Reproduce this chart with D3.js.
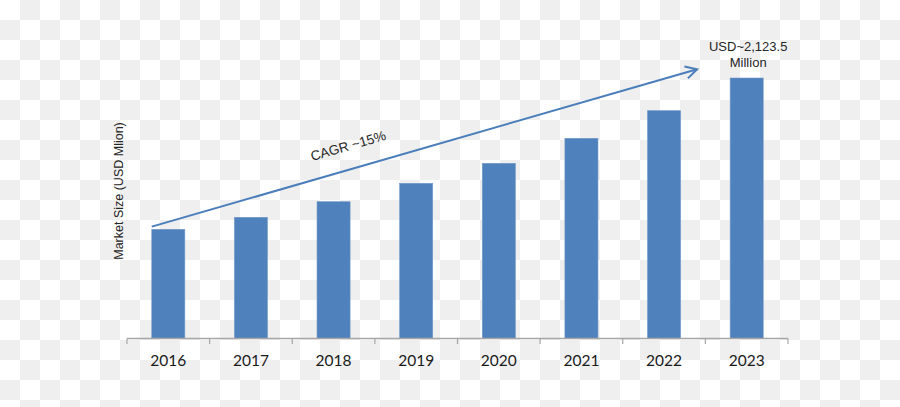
<!DOCTYPE html>
<html>
<head>
<meta charset="utf-8">
<script src="https://cdn.jsdelivr.net/npm/d3@7/dist/d3.min.js"></script>
<style>
  html, body { margin: 0; padding: 0; background: #ffffff; }
  svg { display: block; }
</style>
</head>
<body>
<svg id="chart" width="900" height="407"></svg>
<script>
// ---- data ----
const years = ["2016", "2017", "2018", "2019", "2020", "2021", "2022", "2023"];
const marketSize = [890, 988, 1115, 1265, 1428, 1632, 1857, 2123.5];
const yTitle = "Market Size (USD Mlion)";
const cagrLabel = "CAGR ~15%";
const endLabel = ["USD~2,123.5", "Million"];
const arrowStartValue = 912;
const arrowEndValue = 2195;
const yMax = 2500;

// ---- layout ----
const W = 900, H = 407;
const svg = d3.select("#chart");

// checkerboard backdrop (as in reference image)
const defs = svg.append("defs");
const pat = defs.append("pattern")
  .attr("id", "checker").attr("width", 40).attr("height", 40)
  .attr("patternUnits", "userSpaceOnUse");
pat.append("rect").attr("width", 40).attr("height", 40).attr("fill", "#ffffff");
pat.append("rect").attr("x", 20).attr("y", 0).attr("width", 20).attr("height", 20).attr("fill", "#efefef");
pat.append("rect").attr("x", 0).attr("y", 20).attr("width", 20).attr("height", 20).attr("fill", "#efefef");
svg.append("rect").attr("width", W).attr("height", H).attr("fill", "url(#checker)");

const x = d3.scaleBand().domain(years).range([127, 788])
  .paddingInner(0.6).paddingOuter(0.3);
const y = d3.scaleLinear().domain([0, yMax]).range([338.5, 338.5 - yMax / 8.152]);

// bars
svg.append("g").selectAll("rect").data(years).join("rect")
  .attr("x", d => x(d))
  .attr("y", (d, i) => y(marketSize[i]))
  .attr("width", x.bandwidth())
  .attr("height", (d, i) => y(0) - y(marketSize[i]))
  .attr("fill", "#4f81bd")
  .attr("stroke", "#6f97c8")
  .attr("stroke-width", 0.6);

// x axis: line + ticks at band boundaries
const axisG = svg.append("g");
const x0 = x.range()[0], x1 = x.range()[1];
axisG.append("line")
  .attr("x1", x0).attr("x2", x1).attr("y1", y(0)).attr("y2", y(0))
  .attr("stroke", "#a6a6a6").attr("stroke-width", 1.3);
const bounds = d3.range(years.length + 1).map(i => x0 + i * (x1 - x0) / years.length);
axisG.selectAll("line.tick").data(bounds).join("line")
  .attr("class", "tick")
  .attr("x1", d => d).attr("x2", d => d)
  .attr("y1", y(0)).attr("y2", y(0) + 5.5)
  .attr("stroke", "#a6a6a6").attr("stroke-width", 1.2);
axisG.selectAll("text").data(years).join("text")
  .attr("x", d => x(d) + x.bandwidth() / 2)
  .attr("y", 366)
  .attr("text-anchor", "middle")
  .attr("font-family", "Lato, 'Liberation Sans', sans-serif")
  .attr("font-size", 15.5)
  .attr("fill", "#1a1a1a")
  .text(d => d);

// y axis title
svg.append("text")
  .attr("transform", "translate(122.5,191) rotate(-90)")
  .attr("text-anchor", "middle")
  .attr("font-family", "'Liberation Sans', Arial, sans-serif")
  .attr("font-size", 12.5)
  .attr("fill", "#262626")
  .text(yTitle);

// CAGR arrow
const ax1 = x(years[0]), ay1 = y(arrowStartValue);
const ax2 = x(years[years.length - 1]) - x.bandwidth(), ay2 = y(arrowEndValue);
const ang = Math.atan2(ay2 - ay1, ax2 - ax1);
const arrowColor = "#4a7ebb";
svg.append("line")
  .attr("x1", ax1).attr("y1", ay1).attr("x2", ax2).attr("y2", ay2)
  .attr("stroke", arrowColor).attr("stroke-width", 2);
const headLen = 13, headAng = 0.5;
const head = d3.path();
head.moveTo(ax2 - headLen * Math.cos(ang - headAng), ay2 - headLen * Math.sin(ang - headAng));
head.lineTo(ax2, ay2);
head.lineTo(ax2 - headLen * Math.cos(ang + headAng), ay2 - headLen * Math.sin(ang + headAng));
svg.append("path").attr("d", head.toString())
  .attr("fill", "none").attr("stroke", arrowColor).attr("stroke-width", 2)
  .attr("stroke-linejoin", "miter");

// CAGR label along the arrow
const t = 0.372;
const px = ax1 + t * (ax2 - ax1), py = ay1 + t * (ay2 - ay1);
const off = 23;
const lx = px + off * Math.sin(ang), ly = py - off * Math.cos(ang);
svg.append("text")
  .attr("transform", `translate(${lx},${ly}) rotate(${ang * 180 / Math.PI})`)
  .attr("text-anchor", "middle")
  .attr("dominant-baseline", "central")
  .attr("font-family", "'Liberation Sans', Arial, sans-serif")
  .attr("font-size", 13.5)
  .attr("fill", "#262626")
  .text(cagrLabel);

// end label above last bar
const lastX = x(years[years.length - 1]) + x.bandwidth() / 2;
svg.append("text")
  .attr("x", lastX + 1.5).attr("y", 51)
  .attr("text-anchor", "middle")
  .attr("font-family", "'Liberation Sans', Arial, sans-serif")
  .attr("font-size", 13)
  .attr("fill", "#262626")
  .selectAll("tspan").data(endLabel).join("tspan")
  .attr("x", lastX + 1.5)
  .attr("dy", (d, i) => i === 0 ? 0 : 15.5)
  .text(d => d);
</script>
</body>
</html>
